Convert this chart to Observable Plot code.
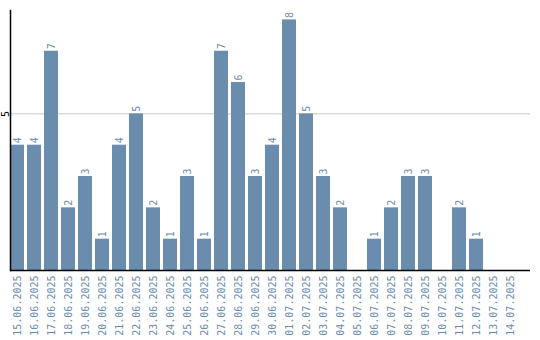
<!DOCTYPE html>
<html>
<head>
<meta charset="utf-8">
<script src="https://cdn.jsdelivr.net/npm/d3@7"></script>
<script src="https://cdn.jsdelivr.net/npm/@observablehq/plot@0.6"></script>
<style>
  html, body { margin: 0; padding: 0; background: #fff; }
</style>
</head>
<body>
<div id="chart"></div>
<script>
const dates = ["15.06.2025","16.06.2025","17.06.2025","18.06.2025","19.06.2025","20.06.2025","21.06.2025","22.06.2025","23.06.2025","24.06.2025","25.06.2025","26.06.2025","27.06.2025","28.06.2025","29.06.2025","30.06.2025","01.07.2025","02.07.2025","03.07.2025","04.07.2025","05.07.2025","06.07.2025","07.07.2025","08.07.2025","09.07.2025","10.07.2025","11.07.2025","12.07.2025","13.07.2025","14.07.2025"];
const counts = [4,4,7,2,3,1,4,5,2,1,3,1,7,6,3,4,8,5,3,2,0,1,2,3,3,0,2,1,0,0];
const yTicks = [5];

const data = dates.map((d, i) => ({date: d, count: counts[i]}));
const color = "#6a8cad";
const font = "DejaVu Sans Mono";

const chart = Plot.plot({
  width: 540,
  height: 340,
  marginTop: 10,
  marginBottom: 70,
  marginLeft: 10,
  marginRight: 10,
  style: {fontFamily: font, fontSize: "10px", background: "#fff"},
  x: {domain: dates, paddingInner: 0.18, paddingOuter: 0.38, align: 0, label: null},
  y: {domain: [0, 8.3], label: null},
  marks: [
    Plot.gridY(yTicks, {stroke: "#c8c8c8", strokeOpacity: 1}),
    Plot.barY(data, {x: "date", y: "count", fill: color}),
    Plot.text(data.filter(d => d.count > 0), {
      x: "date", y: "count", text: d => String(d.count),
      rotate: -90, textAnchor: "start", lineAnchor: "middle", dy: -2,
      fill: color, fontFamily: font, fontSize: 10
    }),
    Plot.axisX({tickSize: 0, tickPadding: 5, tickRotate: -90, fill: color, fontFamily: font, fontSize: 10, label: null}),
    Plot.axisY(yTicks, {tickSize: 0, tickPadding: 2, tickRotate: -90, fill: "#000", fontFamily: font, fontSize: 10, label: null}),
    Plot.ruleY([0], {stroke: "#000", strokeWidth: 1.5}),
    Plot.frame({anchor: "left", stroke: "#000", strokeWidth: 1.5})
  ]
});
document.getElementById("chart").appendChild(chart);
</script>
</body>
</html>
